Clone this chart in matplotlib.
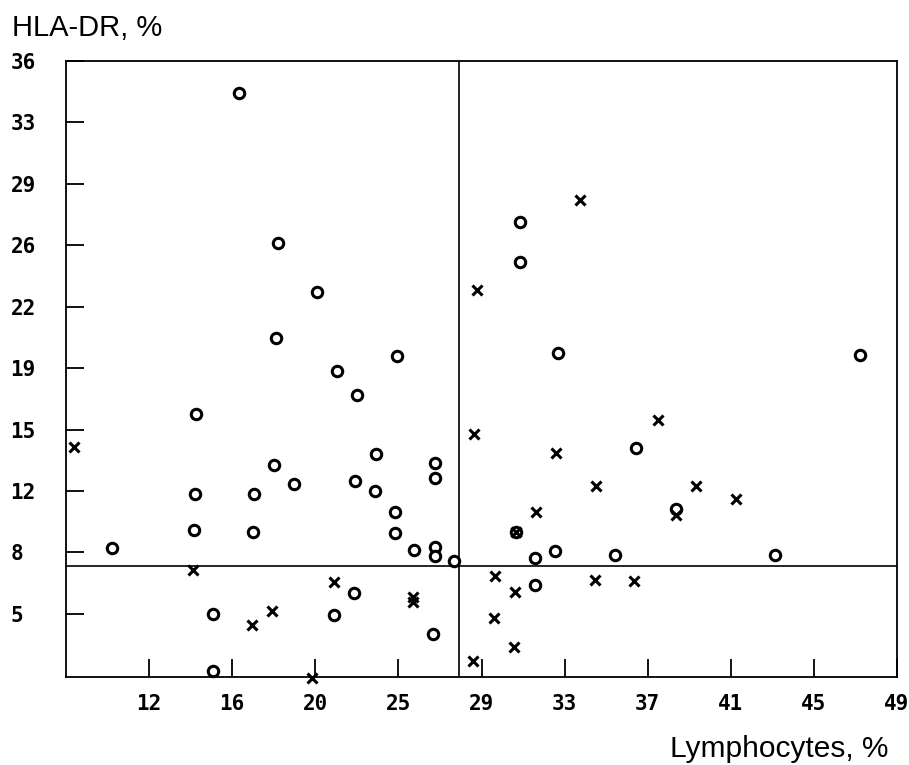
import numpy as np
import matplotlib.pyplot as plt

# --- 1. DATOS ---
# Puntos "o"
circ_x = [16.55, 18.44, 20.36, 18.35, 24.33, 21.37, 22.34, 14.40, 23.29, 18.24,
          19.26, 17.30, 14.34, 22.28, 23.26, 26.21, 26.21, 24.23, 14.32, 17.24,
          24.23, 10.29, 25.19, 26.21, 26.21, 27.13, 22.21, 15.26, 21.20, 26.09,
          15.23,
          30.41, 30.38, 32.27, 47.17, 36.14, 38.11, 30.21, 31.12, 32.11, 35.07,
          42.97, 31.12]
circ_y = [34.22, 25.79, 23.05, 20.43, 19.44, 18.56, 17.25, 16.16, 13.95, 13.28,
          12.23, 11.69, 11.69, 12.43, 11.82, 13.43, 12.60, 10.69, 9.66, 9.57,
          9.50, 8.65, 8.54, 8.73, 8.22, 7.92, 6.10, 4.94, 4.90, 3.82,
          1.76,
          26.93, 24.72, 19.61, 19.46, 14.25, 10.86, 9.53, 8.07, 8.50, 8.26,
          8.28, 6.59]

# Puntos "x"
cruz_x = [8.40, 14.29, 17.20, 18.16, 21.24, 25.13, 25.13, 20.13,
          28.28, 33.34, 28.15, 32.19, 37.21, 34.16, 39.10, 41.05, 31.17, 38.11,
          29.17, 30.13, 34.08, 36.01, 29.14, 30.10, 28.07, 30.21]
cruz_y = [14.31, 7.43, 4.33, 5.13, 6.72, 5.89, 5.64, 1.36,
          23.11, 28.21, 15.06, 13.99, 15.81, 12.15, 12.11, 11.37, 10.65, 10.52,
          7.10, 6.16, 6.86, 6.82, 4.72, 3.07, 2.28, 9.53]

# Liñas de corte dos cuadrantes
corte_x = 27.4
corte_y = 7.65

# Etiquetas dos eixos (tal como aparecen)
etiquetas_x = ["12", "16", "20", "25", "29", "33", "37", "41", "45", "49"]
etiquetas_y = ["36", "33", "29", "26", "22", "19", "15", "12", "8", "5"]

# --- 2. FIGURA ---
fig = plt.figure(figsize=(9.09, 7.65), dpi=100)
ax = fig.add_axes([66 / 909, 1 - 677 / 765, (897 - 66) / 909, (677 - 61) / 765])

ax.set_xlim(8, 49)
ax.set_ylim(1.4, 36)

ax.axvline(corte_x, color='black', linewidth=1.2, zorder=1)
ax.axhline(corte_y, color='black', linewidth=1.2, zorder=1)

ax.plot(circ_x, circ_y, linestyle='None', marker='o', markersize=7.5,
        markerfacecolor='white', markeredgecolor='black', markeredgewidth=2.2,
        clip_on=False, zorder=3)
ax.plot(cruz_x, cruz_y, linestyle='None', marker='x', markersize=7.5,
        color='black', markeredgewidth=2.2, clip_on=False, zorder=4)

# Ticks cara dentro, etiquetas en negra monoespazo
ax.set_xticks(np.linspace(8, 49, 11)[1:])
ax.set_xticklabels(etiquetas_x)
ax.set_yticks(36 - 3.45 * np.arange(10))
ax.set_yticklabels(etiquetas_y)

ax.tick_params(direction='in', length=13, width=1.3, color='black')
ax.tick_params(axis='x', pad=12)
ax.tick_params(axis='y', pad=40)
for lab in ax.get_xticklabels() + ax.get_yticklabels():
    lab.set_fontfamily('DejaVu Sans Mono')
    lab.set_fontweight('bold')
    lab.set_fontsize(15)
for lab in ax.get_yticklabels():
    lab.set_horizontalalignment('left')

for s in ax.spines.values():
    s.set_linewidth(1.3)

# Títulos dos eixos
fig.text(12 / 909, 1 - 14 / 765, "HLA-DR, %", fontsize=21,
         family='Liberation Sans', ha='left', va='top')
fig.text(889 / 909, 1 - 757 / 765, "Lymphocytes, %", fontsize=21.5,
         family='Liberation Sans', ha='right', va='baseline')

fig.savefig("out.png", dpi=100)
